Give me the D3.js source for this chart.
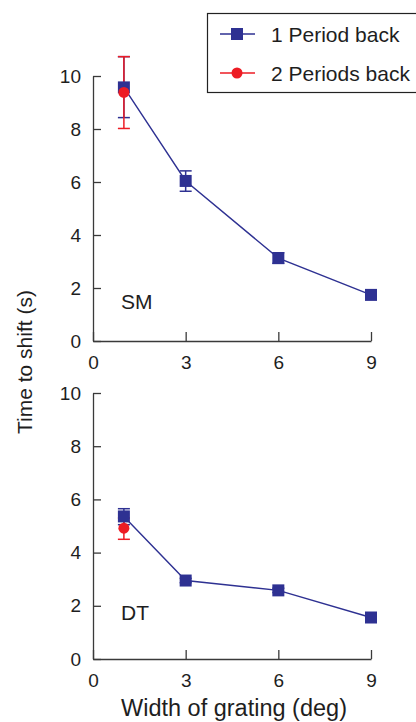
<!DOCTYPE html>
<html>
<head>
<meta charset="utf-8">
<script src="https://cdn.jsdelivr.net/npm/d3@7"></script>
<style>
  body { margin: 0; background: #fff; }
  svg { display: block; font-family: "Liberation Sans", Arial, sans-serif; }
</style>
</head>
<body>
<div id="chart"></div>
<script>
// Data
const widths = [1, 3, 6, 9];
const xTicks = [0, 3, 6, 9];
const yTicks = [0, 2, 4, 6, 8, 10];
const seriesNames = ["1 Period back", "2 Periods back"];

// SM panel
const smOneMean = [9.57, 6.04, 3.13, 1.74];
const smOneLow = [8.43, 5.65, 2.93, 1.66];
const smOneHigh = [10.73, 6.42, 3.33, 1.82];
const smTwoX = [1];
const smTwoMean = [9.38];
const smTwoLow = [8.02];
const smTwoHigh = [10.73];

// DT panel
const dtOneMean = [5.36, 2.95, 2.58, 1.56];
const dtOneLow = [5.05, 2.87, 2.50, 1.48];
const dtOneHigh = [5.65, 3.03, 2.66, 1.64];
const dtTwoX = [1];
const dtTwoMean = [4.92];
const dtTwoLow = [4.50];
const dtTwoHigh = [5.30];

const blue = "#2e3192";
const red = "#ed1c24";
const axisColor = "#3a3a3a";
const textColor = "#1e1e1e";

const width = 416;
const height = 722;

const svg = d3.select("#chart")
  .append("svg")
    .attr("width", width)
    .attr("height", height);

const xScale = d3.scaleLinear().domain([0, 9]).range([93, 371]);

const panels = [
  {label: "SM", labelY: 1.21, top: 76, bottom: 341,
   one: widths.map((x, i) => ({x, m: smOneMean[i], lo: smOneLow[i], hi: smOneHigh[i]})),
   two: smTwoX.map((x, i) => ({x, m: smTwoMean[i], lo: smTwoLow[i], hi: smTwoHigh[i]}))},
  {label: "DT", labelY: 1.45, top: 393, bottom: 659,
   one: widths.map((x, i) => ({x, m: dtOneMean[i], lo: dtOneLow[i], hi: dtOneHigh[i]})),
   two: dtTwoX.map((x, i) => ({x, m: dtTwoMean[i], lo: dtTwoLow[i], hi: dtTwoHigh[i]}))}
];

panels.forEach(p => {
  const yScale = d3.scaleLinear().domain([0, 10]).range([p.bottom, p.top]);
  const g = svg.append("g");

  // Left axis, ticks pointing inward
  const leftAxis = d3.axisLeft(yScale).tickValues(yTicks).tickSizeInner(-8).tickSizeOuter(0).tickPadding(12);
  g.append("g")
    .attr("transform", `translate(${xScale(0)}, 0)`)
    .call(leftAxis)
    .call(a => a.select(".domain").attr("stroke", axisColor).attr("stroke-width", 1.3))
    .call(a => a.selectAll(".tick line").attr("stroke", axisColor).attr("stroke-width", 1.3))
    .call(a => a.selectAll(".tick text").attr("font-size", 19).attr("fill", textColor)
      .attr("font-family", "Liberation Sans, Arial, sans-serif"));

  // Bottom axis, ticks pointing inward
  const bottomAxis = d3.axisBottom(xScale).tickValues(xTicks).tickSizeInner(-9).tickSizeOuter(0).tickPadding(15);
  g.append("g")
    .attr("transform", `translate(0, ${p.bottom})`)
    .call(bottomAxis)
    .call(a => a.select(".domain").attr("stroke", axisColor).attr("stroke-width", 1.3))
    .call(a => a.selectAll(".tick line").attr("stroke", axisColor).attr("stroke-width", 1.3))
    .call(a => a.selectAll(".tick text").attr("font-size", 19).attr("fill", textColor)
      .attr("font-family", "Liberation Sans, Arial, sans-serif"));

  // Error bars
  const drawErr = (data, color) => {
    const eg = g.append("g").attr("stroke", color).attr("stroke-width", 1.5);
    data.forEach(d => {
      eg.append("line").attr("x1", xScale(d.x)).attr("x2", xScale(d.x))
        .attr("y1", yScale(d.lo)).attr("y2", yScale(d.hi));
      [d.lo, d.hi].forEach(v => {
        eg.append("line").attr("x1", xScale(d.x) - 6).attr("x2", xScale(d.x) + 6)
          .attr("y1", yScale(v)).attr("y2", yScale(v));
      });
    });
  };
  drawErr(p.one, blue);
  drawErr(p.two, red);

  // Line for 1 period back
  const line = d3.line().x(d => xScale(d.x)).y(d => yScale(d.m));
  g.append("path")
    .datum(p.one)
    .attr("d", line)
    .attr("fill", "none")
    .attr("stroke", blue)
    .attr("stroke-width", 1.4);

  g.selectAll(".sq")
    .data(p.one)
    .join("rect")
      .attr("class", "sq")
      .attr("x", d => xScale(d.x) - 6)
      .attr("y", d => yScale(d.m) - 6)
      .attr("width", 12)
      .attr("height", 12)
      .attr("fill", blue);

  g.selectAll(".dot")
    .data(p.two)
    .join("circle")
      .attr("class", "dot")
      .attr("cx", d => xScale(d.x))
      .attr("cy", d => yScale(d.m))
      .attr("r", 5.5)
      .attr("fill", red);

  // Panel label
  g.append("text")
    .text(p.label)
    .attr("x", 121)
    .attr("y", yScale(p.labelY))
    .attr("font-size", 21)
    .attr("fill", textColor);
});

// Legend
const legend = svg.append("g");
legend.append("rect")
  .attr("x", 207.5).attr("y", 13.5)
  .attr("width", 220).attr("height", 79)
  .attr("fill", "#fff")
  .attr("stroke", "#222")
  .attr("stroke-width", 1.2);

seriesNames.forEach((name, i) => {
  const y = 34 + i * 39;
  const color = i === 0 ? blue : red;
  legend.append("line")
    .attr("x1", 220).attr("x2", 255).attr("y1", y).attr("y2", y)
    .attr("stroke", color).attr("stroke-width", 1.5);
  if (i === 0) {
    legend.append("rect").attr("x", 231).attr("y", y - 6).attr("width", 12).attr("height", 12).attr("fill", color);
  } else {
    legend.append("circle").attr("cx", 237).attr("cy", y).attr("r", 5.5).attr("fill", color);
  }
  legend.append("text")
    .text(name)
    .attr("x", 271)
    .attr("y", y + 7.7)
    .attr("font-size", 21)
    .attr("fill", textColor);
});

// Axis titles
svg.append("text")
  .text("Time to shift (s)")
  .attr("transform", "translate(32, 362) rotate(-90)")
  .attr("text-anchor", "middle")
  .attr("font-size", 21)
  .attr("fill", textColor);

svg.append("text")
  .text("Width of grating (deg)")
  .attr("x", 234)
  .attr("y", 716)
  .attr("text-anchor", "middle")
  .attr("font-size", 23.5)
  .attr("fill", textColor);
</script>
</body>
</html>
